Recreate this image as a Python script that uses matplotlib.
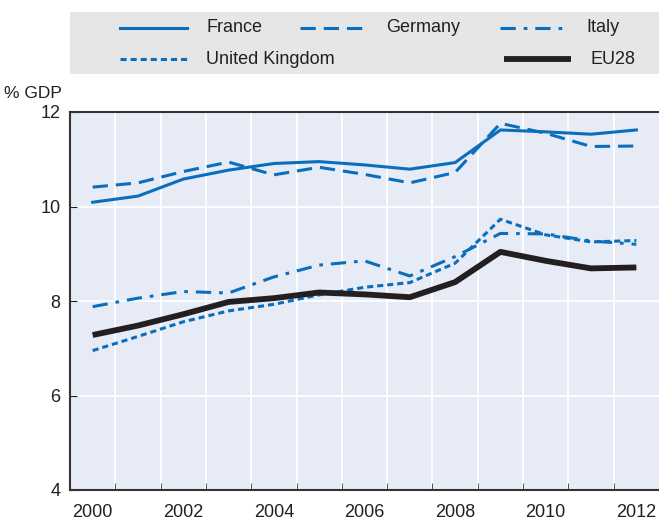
import matplotlib.pyplot as plt
from matplotlib.patches import Rectangle

years = list(range(2000, 2013))
france = [10.09, 10.22, 10.58, 10.77, 10.91, 10.95, 10.88, 10.79, 10.93, 11.62, 11.58, 11.53, 11.62]
germany = [10.41, 10.50, 10.74, 10.94, 10.67, 10.83, 10.68, 10.50, 10.72, 11.76, 11.55, 11.27, 11.28]
italy = [7.88, 8.06, 8.20, 8.17, 8.51, 8.76, 8.85, 8.53, 8.94, 9.43, 9.42, 9.27, 9.20]
uk = [6.95, 7.25, 7.56, 7.79, 7.93, 8.13, 8.29, 8.39, 8.80, 9.73, 9.40, 9.25, 9.28]
eu28 = [7.28, 7.48, 7.72, 7.98, 8.06, 8.18, 8.14, 8.08, 8.40, 9.04, 8.85, 8.69, 8.71]

blue = '#0a6ebd'
dark = '#231f20'
plt.rcParams['font.family'] = ['Liberation Sans', 'DejaVu Sans']

styles = {
    'France': dict(color=blue, lw=2.2, ls='-'),
    'Germany': dict(color=blue, lw=2.2, ls=(0, (5, 2.6))),
    'Italy': dict(color=blue, lw=2.2, ls=(0, (5, 2.6, 1.2, 2.6))),
    'United Kingdom': dict(color=blue, lw=2.2, ls=(0, (2, 1.3))),
    'EU28': dict(color=dark, lw=4.2, ls='-', solid_capstyle='butt'),
}
series = {'France': france, 'Germany': germany, 'Italy': italy,
          'United Kingdom': uk, 'EU28': eu28}

fig = plt.figure(figsize=(6.59, 5.23), dpi=100)
ax = fig.add_axes([70 / 659, 1 - 490 / 523, 589 / 659, 378 / 523])
ax.set_facecolor('#e6ebf6')

x = range(len(years))
for name, vals in series.items():
    ax.plot(x, vals, **styles[name])

ax.set_xlim(-0.5, len(years) - 0.5)
ax.set_ylim(4, 12)
ax.set_yticks([4, 6, 8, 10, 12])
ax.set_xticks(range(0, len(years), 2))
ax.set_xticklabels([str(y) for y in years[::2]])
ax.set_xticks([i + 0.5 for i in range(len(years) - 1)], minor=True)

ax.grid(True, which='minor', axis='x', color='white', lw=1.3)
ax.grid(True, which='major', axis='y', color='white', lw=1.3)
ax.set_axisbelow(True)
ax.tick_params(axis='x', which='major', length=0, labelsize=13, pad=10, colors=dark)
ax.tick_params(axis='x', which='minor', direction='in', length=5, color='#333333')
ax.tick_params(axis='y', direction='in', length=5, labelsize=13, pad=7, colors=dark)
for side in ['left', 'bottom', 'top']:
    ax.spines[side].set_color('#333333')
    ax.spines[side].set_linewidth(1.5)
ax.spines['right'].set_visible(False)

fig.text(62 / 659, 1 - 93 / 523, '% GDP', ha='right', va='center', fontsize=12.5, color=dark)

# legend drawn by hand in pixel space on an overlay axes
lg = fig.add_axes([0, 0, 1, 1], zorder=5)
lg.set_xlim(0, 659)
lg.set_ylim(523, 0)
lg.axis('off')
lg.add_patch(Rectangle((70, 12), 589, 62, facecolor='#e6e6e6', edgecolor='none'))
entries = [('France', 120, 28), ('Germany', 300, 28), ('Italy', 500, 28),
           ('United Kingdom', 120, 59), ('EU28', 504, 59)]
for name, hx, hy in entries:
    lg.plot([hx, hx + 67], [hy, hy], **styles[name])
    lg.text(hx + 86, hy, name, ha='left', va='center', fontsize=13, color=dark)

fig.savefig('out.png', dpi=100)
